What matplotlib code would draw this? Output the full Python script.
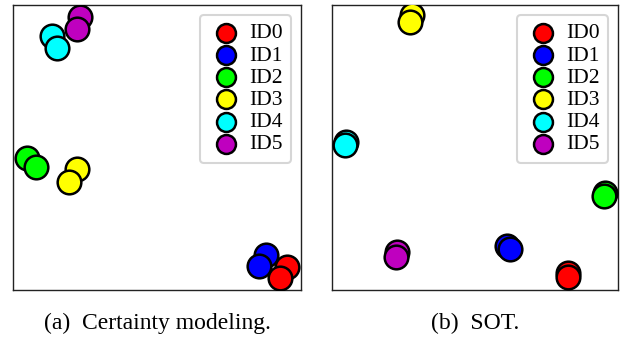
import matplotlib
matplotlib.use("Agg")
import matplotlib.pyplot as plt

plt.rcParams['font.family'] = ['Liberation Serif', 'DejaVu Serif']

ids = ["ID0", "ID1", "ID2", "ID3", "ID4", "ID5"]
colors = ["#ff0000", "#0000ff", "#00ff00", "#ffff00", "#00ffff", "#bf00bf"]

# panel (a): Certainty modeling  (two points per identity)
a_x = {
    "ID0": [0.951, 0.927],
    "ID1": [0.878, 0.854],
    "ID2": [0.049, 0.080],
    "ID3": [0.222, 0.194],
    "ID4": [0.135, 0.153],
    "ID5": [0.233, 0.222],
}
a_y = {
    "ID0": [0.081, 0.042],
    "ID1": [0.123, 0.084],
    "ID2": [0.463, 0.432],
    "ID3": [0.425, 0.379],
    "ID4": [0.891, 0.849],
    "ID5": [0.958, 0.916],
}

# panel (b): SOT
b_x = {
    "ID0": [0.825, 0.825],
    "ID1": [0.612, 0.622],
    "ID2": [0.955, 0.951],
    "ID3": [0.280, 0.273],
    "ID4": [0.049, 0.045],
    "ID5": [0.227, 0.224],
}
b_y = {
    "ID0": [0.060, 0.046],
    "ID1": [0.154, 0.144],
    "ID2": [0.340, 0.330],
    "ID3": [0.965, 0.940],
    "ID4": [0.519, 0.509],
    "ID5": [0.133, 0.116],
}

captions = ["(a)  Certainty modeling.", "(b)  SOT."]

fig = plt.figure(figsize=(6.22, 3.39), dpi=100)
ax_a = fig.add_axes([13/622, 49/339, 288/622, 285/339])
ax_b = fig.add_axes([332/622, 49/339, 286/622, 285/339])

for ax, xs, ys, cap in [(ax_a, a_x, a_y, captions[0]), (ax_b, b_x, b_y, captions[1])]:
    for name, c in zip(ids, colors):
        ax.scatter(xs[name], ys[name], s=290, c=c, edgecolors='black',
                   linewidths=1.8, label=name, zorder=3)
    ax.set_xlim(0, 1)
    ax.set_ylim(0, 1)
    ax.set_xticks([])
    ax.set_yticks([])
    for sp in ax.spines.values():
        sp.set_linewidth(1.0)
        sp.set_color('#222222')
    handles, labels = ax.get_legend_handles_labels()
    leg = ax.legend(handles, labels, loc='upper right', fontsize=15.5,
                    markerscale=0.8, labelspacing=0.1, handletextpad=0.28,
                    borderpad=0.4, borderaxespad=0.45, handlelength=1.6,
                    framealpha=0.8, edgecolor='#cccccc', fancybox=True)
    leg.get_frame().set_linewidth(1.5)
    pos = ax.get_position()
    fig.text(pos.x0 + pos.width/2, 0.047, cap, ha='center', va='center', fontsize=17)

fig.savefig("out.png", dpi=100)
